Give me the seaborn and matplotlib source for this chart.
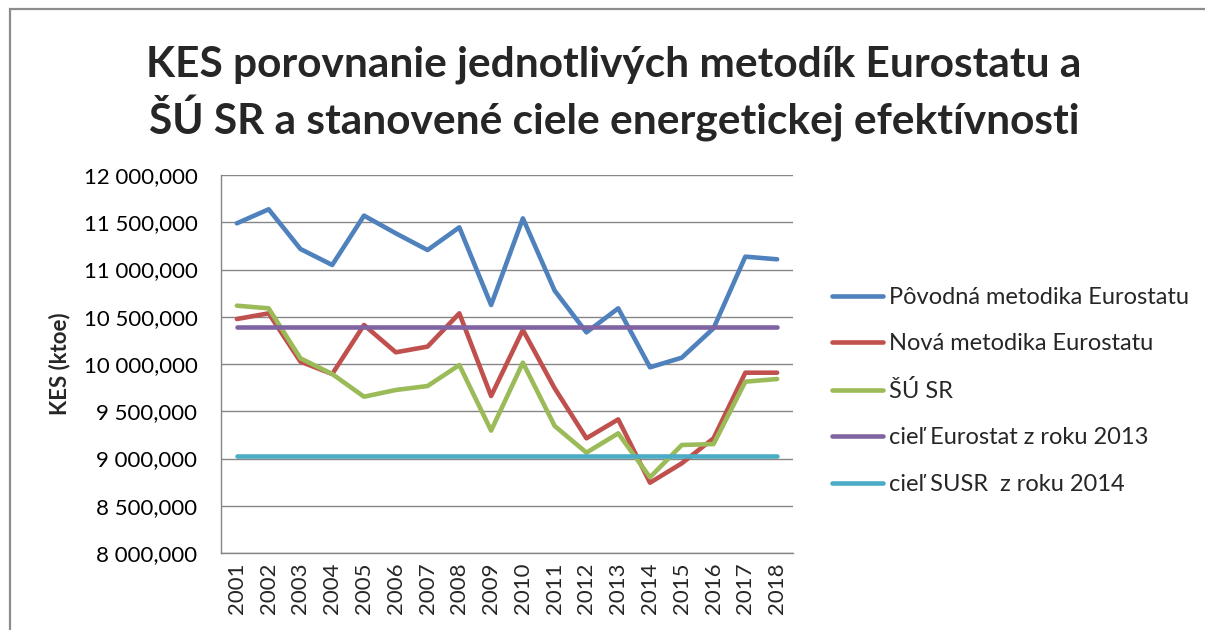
import pandas as pd
import numpy as np
import matplotlib.pyplot as plt
import seaborn as sns
from matplotlib.ticker import FuncFormatter, MultipleLocator
from matplotlib.patches import Rectangle

years = list(range(2001, 2019))

# KES in ktoe
povodna = [11489, 11637, 11217, 11048, 11570, 11383, 11206, 11446, 10624,
           11541, 10776, 10335, 10589, 9965, 10067, 10378, 11136, 11108]
nova = [10476, 10536, 10025, 9894, 10413, 10124, 10184, 10536, 9661,
        10360, 9743, 9214, 9414, 8744, 8949, 9214, 9908, 9908]
susr = [10617, 10589, 10060, 9894, 9654, 9725, 9767, 9989, 9295,
        10014, 9344, 9062, 9266, 8801, 9143, 9153, 9813, 9841]
ciel_eurostat = 10395
ciel_susr = 9026

labels = ['Pôvodná metodika Eurostatu', 'Nová metodika Eurostatu', 'ŠÚ SR',
          'cieľ Eurostat z roku 2013', 'cieľ SUSR  z roku 2014']
colors = ['#4F81BD', '#C0504D', '#9BBB59', '#8064A2', '#4BACC6']

series = [povodna, nova, susr, [ciel_eurostat] * len(years), [ciel_susr] * len(years)]
df = pd.concat([pd.DataFrame({'rok': years, 'KES': s, 'seria': lab}) for s, lab in zip(series, labels)])

sns.set_style('white')
plt.rcParams['font.family'] = ['Lato', 'DejaVu Sans']

fig = plt.figure(figsize=(12.05, 6.3), dpi=100)
ax = fig.add_axes([221 / 1205, 1 - 553 / 630, (793 - 221) / 1205, (553 - 175) / 630])

sns.lineplot(data=df, x='rok', y='KES', hue='seria', hue_order=labels, palette=colors,
             linewidth=3.3, ax=ax, legend=True)

ax.set_xlim(2000.5, 2018.5)
ax.set_ylim(8000, 12000)
ax.yaxis.set_major_locator(MultipleLocator(500))
ax.set_xticks(years)
ax.set_xticklabels([str(y) for y in years], rotation=90, fontsize=16)
ax.yaxis.set_major_formatter(FuncFormatter(lambda v, p: f'{v:,.3f}'.replace(',', ' ').replace('.', ',')))
ax.tick_params(axis='y', labelsize=16, length=0, pad=17, colors='#000000')
ax.tick_params(axis='x', length=0, pad=7)
ax.grid(axis='y', color='#868686', linewidth=1.0)
ax.set_axisbelow(True)
for s in ['top', 'right']:
    ax.spines[s].set_visible(False)
for s in ['left', 'bottom']:
    ax.spines[s].set_color('#868686')
    ax.spines[s].set_linewidth(1.0)

ax.set_xlabel('')
ax.set_ylabel('KES (ktoe)', fontsize=16, fontweight='bold', labelpad=0)
ax.yaxis.set_label_coords(70 / 1205, 1 - 364 / 630, transform=fig.transFigure)

leg = ax.legend(loc='center left', bbox_to_anchor=(832 / 1205, 1 - 391 / 630),
                bbox_transform=fig.transFigure, frameon=False, fontsize=17,
                handlelength=2.15, handletextpad=0.25, labelspacing=1.08,
                borderpad=0, borderaxespad=0)
for line in leg.get_lines():
    line.set_linewidth(3.3)

fig.text(614 / 1205, 1 - 65 / 630, 'KES porovnanie jednotlivých metodík Eurostatu a',
         ha='center', va='center', fontsize=30.5, fontweight='bold')
fig.text(614 / 1205, 1 - 118 / 630, 'ŠÚ SR a stanovené ciele energetickej efektívnosti',
         ha='center', va='center', fontsize=30.5, fontweight='bold')

fig.patches.append(Rectangle((9.5 / 1205, -0.1), 1.2, 1.1 - 9.5 / 630, transform=fig.transFigure,
                             fill=False, edgecolor='#8c8c8c', linewidth=1.6))

fig.savefig('out.png', dpi=100)
